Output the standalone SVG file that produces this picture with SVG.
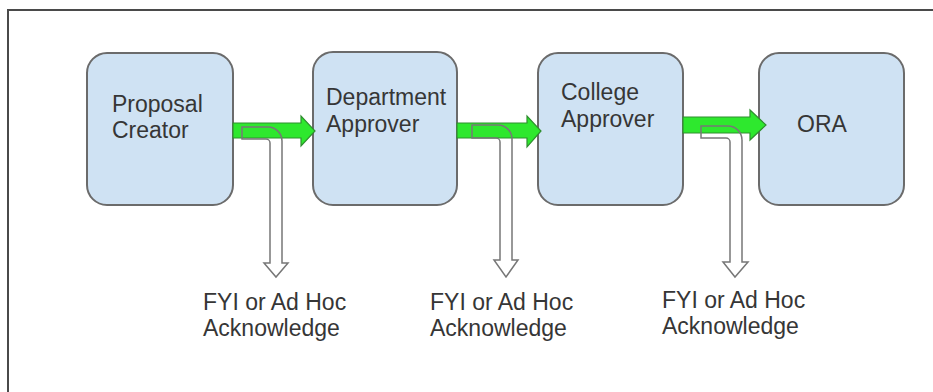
<svg xmlns="http://www.w3.org/2000/svg" width="933" height="392" viewBox="0 0 933 392">
<style>
.node rect{fill:#cfe2f3;stroke:#6b6b6b;stroke-width:2}
.lbl{font-family:"Liberation Sans",Arial,sans-serif;font-size:23px;fill:#363636}
.green{fill:#2ee82e;stroke:#2f8f2f;stroke-width:1.2}
.bentfill{fill:#fff;stroke:none}
.bent{fill:none;stroke:#777;stroke-width:1.5}
</style>
<rect x="8" y="10" width="940" height="400" fill="#fff" stroke="#4a4a4a" stroke-width="2"/>
<g id="node-proposal" class="node">
<rect x="87" y="53" width="146" height="152" rx="20"/>
<text class="lbl" x="112" y="112">Proposal</text>
<text class="lbl" x="112" y="138">Creator</text>
</g>
<g id="node-department" class="node">
<rect x="313" y="52" width="144" height="153" rx="20"/>
<text class="lbl" x="326" y="105">Department</text>
<text class="lbl" x="326" y="132">Approver</text>
</g>
<g id="node-college" class="node">
<rect x="538" y="53" width="145" height="152" rx="20"/>
<text class="lbl" x="561" y="100">College</text>
<text class="lbl" x="561" y="127">Approver</text>
</g>
<g id="node-ora" class="node">
<rect x="759" y="53" width="145" height="152" rx="20"/>
<text class="lbl" x="797" y="132">ORA</text>
</g>
<g id="connectors">
<path class="bentfill" d="M242 127 H268 A14 14 0 0 1 282 141 V263 H288 L276 277 L264 263 H270 V143 A4 4 0 0 0 266 139 H242 Z"/>
<path class="bentfill" d="M472 125 H498 A14 14 0 0 1 512 139 V260 H518 L506 277 L494 260 H500 V142 A4 4 0 0 0 496 138 H472 Z"/>
<path class="bentfill" d="M701 126 H728 A14 14 0 0 1 742 140 V262 H748 L735 277 L723 262 H730 V142 A4 4 0 0 0 726 138 H701 Z"/>
<path class="green" d="M233 123 H301 V116 L315 131 L301 146 V138 H233 Z"/>
<path class="green" d="M457 123 H527 V116 L541 131 L527 147 V138 H457 Z"/>
<path class="green" d="M683 117 H750 V110 L766 125 L750 140 V133 H683 Z"/>
<path class="bent" d="M242 127 H268 A14 14 0 0 1 282 141 V263 H288 L276 277 L264 263 H270 V143 A4 4 0 0 0 266 139 H242 Z"/>
<path class="bent" d="M472 125 H498 A14 14 0 0 1 512 139 V260 H518 L506 277 L494 260 H500 V142 A4 4 0 0 0 496 138 H472 Z"/>
<path class="bent" d="M701 126 H728 A14 14 0 0 1 742 140 V262 H748 L735 277 L723 262 H730 V142 A4 4 0 0 0 726 138 H701 Z"/>
</g>
<g id="label-fyi-1">
<text class="lbl" x="203" y="310">FYI or Ad Hoc</text>
<text class="lbl" x="203" y="336">Acknowledge</text>
</g>
<g id="label-fyi-2">
<text class="lbl" x="430" y="310">FYI or Ad Hoc</text>
<text class="lbl" x="430" y="336">Acknowledge</text>
</g>
<g id="label-fyi-3">
<text class="lbl" x="662" y="308">FYI or Ad Hoc</text>
<text class="lbl" x="662" y="334">Acknowledge</text>
</g>
</svg>
